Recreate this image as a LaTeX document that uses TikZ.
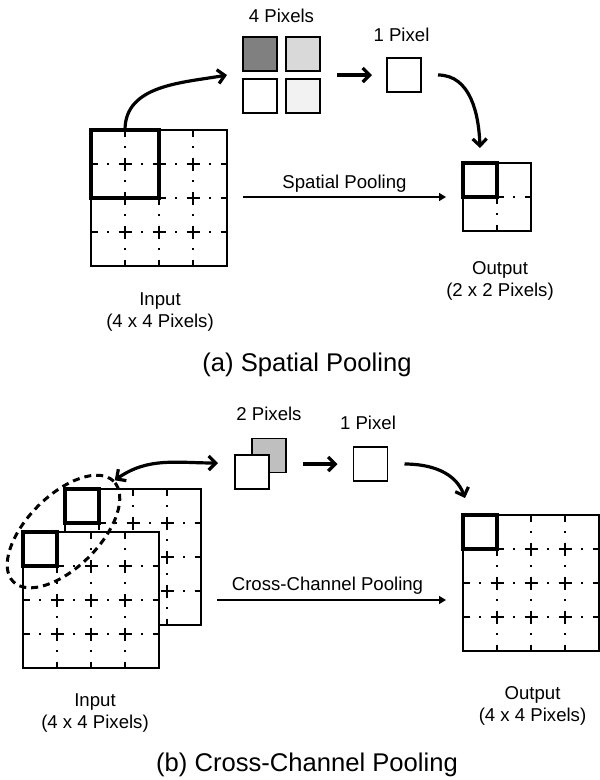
\documentclass[tikz,border=0pt]{standalone}
\usepackage{fontspec}
\setmainfont{Liberation Sans}
\usetikzlibrary{calc,positioning,shapes.geometric,arrows.meta}
\definecolor{pixdark}{gray}{0.5}
\definecolor{pixlight}{gray}{0.85}
\definecolor{pixpale}{gray}{0.95}
\definecolor{pixmid}{gray}{0.75}
% n x n grid of 34pt cells, top left corner at (x,y)
\def\pixgrid#1(#2,#3)#4{%
	\node[gridbox, minimum size=#4*34pt] (#1) at (#2,#3) {};
	\pgfmathtruncatemacro\gridlast{#4-1}
	\foreach \k in {1,...,\gridlast}{
		\draw[dotdash] ($(#1.north west)+(34*\k,0)$) -- ++(0,34*#4);
		\draw[dotdash] ($(#1.north west)+(0,34*\k)$) -- ++(34*#4,0);
	}
}

\begin{document}
\begin{tikzpicture}[x=1pt,y=-1pt,
		>={Straight Barb[length=7pt,width=14pt]},
		gridbox/.style={draw,fill=white,line width=1.8pt,inner sep=0,outer sep=0,anchor=north west},
		dotdash/.style={line width=1.8pt,dash pattern=on 13pt off 9.8pt on 1.4pt off 9.8pt,dash phase=6.5pt},
		hl/.style={draw,line width=3.6pt,inner sep=0,outer sep=0,anchor=north west},
		pix/.style={draw,line width=1.7pt,minimum size=34pt,inner sep=0,outer sep=0},
		bigarrow/.style={line width=3.2pt},
		thinarrow/.style={line width=1.5pt,-{Triangle[length=7pt,width=8pt]}},
		lbl/.style={font=\fontsize{18.6}{22}\selectfont},
		captxt/.style={font=\fontsize{25.6}{30}\selectfont},
		ring/.style={draw,ellipse,line width=3pt,dash pattern=on 7pt off 5pt,inner sep=0}]
	\useasboundingbox (0,0) rectangle (600,780);
	%%%%% (a) SPATIAL POOLING %%%%%
	\pixgrid{ingrid}(91,130){4}
	\node[hl, minimum size=68pt] (inhl) at (91,130) {};
	
	\node[pix, fill=pixdark] (p1) at (260,54) {};
	\node[pix, fill=pixlight] (p2) at (303,54) {};
	\node[pix, fill=white] (p3) at (260,96) {};
	\node[pix, fill=pixpale] (p4) at (303,96) {};
	\node[lbl, anchor=base] (lfour) at ($(p1.north)!0.5!(p2.north)+(0,-15)$) {4 Pixels};
	
	\node[pix] (pone) at (404,75) {};
	\node[lbl, anchor=base] (lone) at ($(pone.north)+(-2.5,-17)$) {1 Pixel};
	
	\pixgrid{outgrid}(463,163){2}
	\node[hl, minimum size=34pt] (outhl) at (463,163) {};
	
	\draw[->, bigarrow] (inhl.north) to[out=90,in=190] ($(p1.south west)!0.5!(p3.north west)+(-16,0)$);
	\draw[->, bigarrow] ($(p2.south east)!0.5!(p4.north east)+(17,0)$) -- ($(pone.west)+(-15,0)$);
	\draw[->, bigarrow] ($(pone.east)+(17,0)$) to[out=0,in=92] ($(outhl.north)+(0,-15)$);
	\draw[thinarrow] ($(ingrid.east |- outgrid.west)+(16,0)$) -- node[lbl, anchor=base, yshift=9pt] (lsp) {Spatial Pooling} ($(outgrid.west)+(-17,0)$);
	
	\node[lbl, align=center] (lin) at (160,312) {Input\\(4 x 4 Pixels)};
	\node[lbl, align=center] (lout) at (500,281) {Output\\(2 x 2 Pixels)};
	\node[captxt, anchor=base] (capa) at (307,371.5) {(a) Spatial Pooling};
	
	%%%%% (b) CROSS-CHANNEL POOLING %%%%%
	\pixgrid{backgrid}(65,489){4}
	\node[hl, minimum size=34pt] (backhl) at (65,489) {};
	\pixgrid{frontgrid}(23,532){4}
	\node[hl, minimum size=34pt] (fronthl) at (23,532) {};
	\node[ring, rotate=45, minimum width=142pt, minimum height=72pt] (sel) at (63.5,531.5) {};
	
	\node[pix, fill=pixmid] (pb) at (269,455.5) {};
	\node[pix, fill=white] (pf) at (252,472) {};
	\node[lbl, anchor=base] (ltwo) at ($(pb.north)+(0,-18)$) {2 Pixels};
	
	\node[pix] (ponetwo) at (370.5,464) {};
	\node[lbl, anchor=base] (lonetwo) at ($(ponetwo.north)+(-2.5,-18)$) {1 Pixel};
	
	\pixgrid{outgridtwo}(463,515){4}
	\node[hl, minimum size=34pt] (outhltwo) at (463,515) {};
	
	\draw[<->, bigarrow] (sel.east) to[out=35,in=180] ($(pf.west)+(-17,-9)$);
	\draw[->, bigarrow] ($(pb.east |- ponetwo.west)+(17,0)$) -- ($(ponetwo.west)+(-16,0)$);
	\draw[->, bigarrow] ($(ponetwo.east)+(17,0)$) to[out=0,in=110] ($(outhltwo.north)+(-15,-17)$);
	\draw[thinarrow] ($(backgrid.east)+(16,43)$) -- node[lbl, anchor=base, yshift=10pt, xshift=-4pt] (lcc) {Cross-Channel Pooling} ($(backgrid.east -| outgridtwo.west)+(-17,43)$);
	
	\node[lbl, align=center] (lintwo) at (95,713) {Input\\(4 x 4 Pixels)};
	\node[lbl, align=center] (louttwo) at (532.5,706) {Output\\(4 x 4 Pixels)};
	\node[captxt, anchor=base] (capb) at (307,771.5) {(b) Cross-Channel Pooling};
\end{tikzpicture}
\end{document}
